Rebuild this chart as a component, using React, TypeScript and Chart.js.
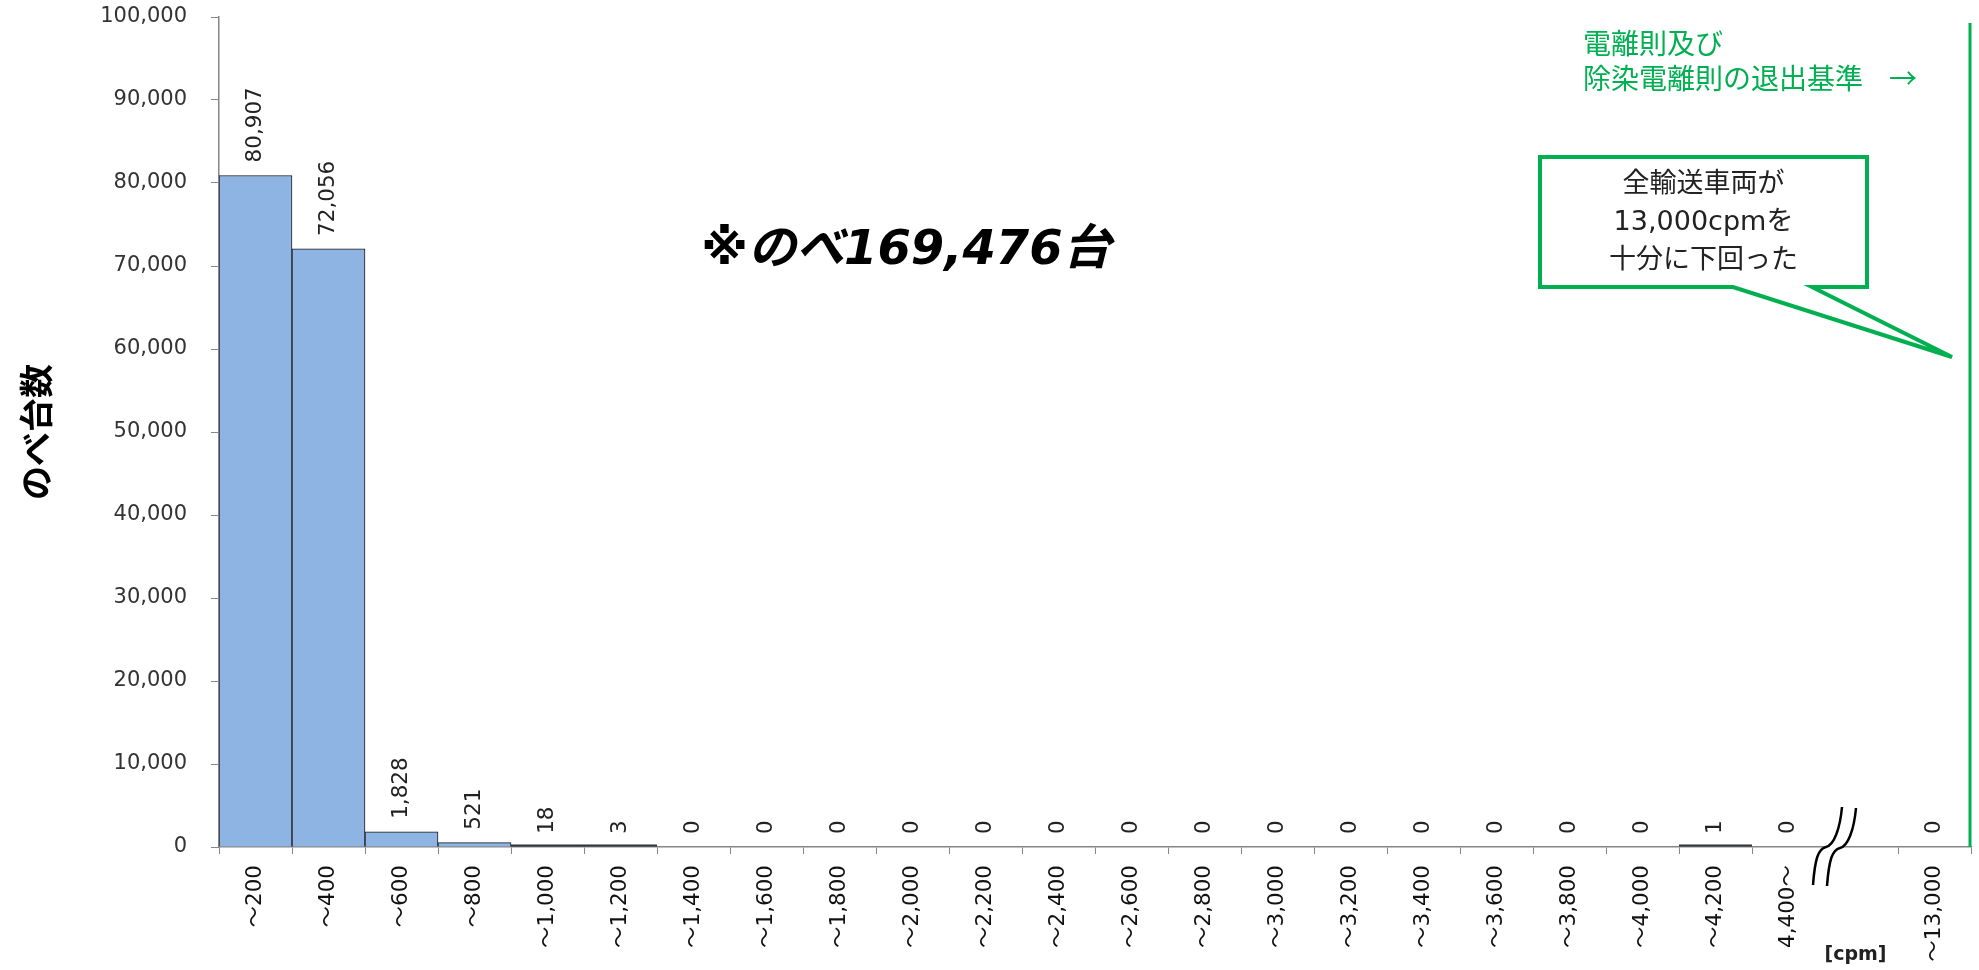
import { useEffect, useRef } from 'react';
import { Chart, registerables } from 'chart.js';

Chart.register(...registerables);

const categories = [
  '～200', '～400', '～600', '～800', '～1,000', '～1,200', '～1,400', '～1,600',
  '～1,800', '～2,000', '～2,200', '～2,400', '～2,600', '～2,800', '～3,000',
  '～3,200', '～3,400', '～3,600', '～3,800', '～4,000', '～4,200', '4,400～', '', '～13,000',
];
const counts: (number | null)[] = [
  80907, 72056, 1828, 521, 18, 3, 0, 0,
  0, 0, 0, 0, 0, 0, 0,
  0, 0, 0, 0, 0, 1, 0, null, 0,
];
const yMax = 100000;
const yStep = 10000;
const yTitle = 'のべ台数';
const totalText = '※のべ169,476台';
const unitText = '[cpm]';
const thresholdLines = ['電離則及び', '除染電離則の退出基準'];
const calloutLines = ['全輸送車両が', '13,000cpmを', '十分に下回った'];

const FONT = "'DejaVu Sans', 'Noto Sans CJK JP', sans-serif";
const JP = "'Noto Sans CJK JP', 'DejaVu Sans', sans-serif";
const GREEN = '#00B050';
const fmt = (v: number) => v.toLocaleString('en-US');

const overlay = {
  id: 'overlay',
  afterDatasetsDraw(chart: any) {
    const ctx = chart.ctx as CanvasRenderingContext2D;
    const meta = chart.getDatasetMeta(0);
    ctx.save();
    meta.data.forEach((bar: any, i: number) => {
      const v = counts[i];
      if (v == null || v <= 0) return;
      if (bar.base - bar.y < 2) {
        ctx.strokeStyle = '#333';
        ctx.lineWidth = 2;
        ctx.beginPath();
        ctx.moveTo(bar.x - bar.width / 2, bar.base - 1);
        ctx.lineTo(bar.x + bar.width / 2, bar.base - 1);
        ctx.stroke();
      }
    });
    ctx.fillStyle = '#222';
    ctx.font = `21.5px ${FONT}`;
    meta.data.forEach((bar: any, i: number) => {
      const v = counts[i];
      if (v == null) return;
      ctx.save();
      ctx.translate(bar.x, bar.y - 13);
      ctx.rotate(-Math.PI / 2);
      ctx.textAlign = 'left';
      ctx.textBaseline = 'middle';
      ctx.fillText(fmt(v), 0, 0);
      ctx.restore();
    });
    ctx.restore();
  },
  afterDraw(chart: any) {
    const ctx = chart.ctx as CanvasRenderingContext2D;
    const area = chart.chartArea;
    const meta = chart.getDatasetMeta(0);
    const R = area.right;
    ctx.save();

    // break symbol
    const gapIdx = categories.indexOf('');
    const bx = (meta.data[gapIdx - 1].x + meta.data[gapIdx].x) / 2;
    const by = area.bottom;
    const curve = (dx: number, dy: number, rev: boolean) => {
      const p0 = [bx - 12 + dx, by + 38 + dy];
      const p3 = [bx + 17 + dx, by - 40 + dy];
      const m = [bx + 1 + dx, by + dy];
      if (!rev) {
        ctx.lineTo(p0[0], p0[1]);
        ctx.bezierCurveTo(p0[0] + 2, p0[1] - 26, m[0] - 8, m[1] + 2, m[0], m[1]);
        ctx.bezierCurveTo(m[0] + 8, m[1] - 2, p3[0] - 2, p3[1] + 22, p3[0], p3[1]);
      } else {
        ctx.lineTo(p3[0], p3[1]);
        ctx.bezierCurveTo(p3[0] - 2, p3[1] + 22, m[0] + 8, m[1] - 2, m[0], m[1]);
        ctx.bezierCurveTo(m[0] - 8, m[1] + 2, p0[0] + 2, p0[1] - 26, p0[0], p0[1]);
      }
    };
    ctx.fillStyle = '#fff';
    ctx.beginPath();
    ctx.moveTo(bx - 12, by + 38);
    curve(0, 0, false);
    curve(14, 1, true);
    ctx.closePath();
    ctx.fill();
    ctx.strokeStyle = '#000';
    ctx.lineWidth = 2.5;
    ctx.beginPath();
    ctx.moveTo(bx - 12, by + 38);
    curve(0, 0, false);
    ctx.stroke();
    ctx.beginPath();
    ctx.moveTo(bx - 12 + 14, by + 38 + 1);
    curve(14, 1, false);
    ctx.stroke();

    // unit label
    ctx.fillStyle = '#222';
    ctx.font = `bold 19px ${FONT}`;
    ctx.textAlign = 'center';
    ctx.textBaseline = 'middle';
    ctx.fillText(unitText, meta.data[gapIdx].x - 6, 955);

    // threshold vertical line
    ctx.strokeStyle = GREEN;
    ctx.lineWidth = 3;
    ctx.beginPath();
    ctx.moveTo(R - 1, 23);
    ctx.lineTo(R - 1, area.bottom);
    ctx.stroke();

    // threshold text
    ctx.fillStyle = GREEN;
    ctx.font = `28px ${JP}`;
    ctx.textAlign = 'left';
    ctx.fillText(thresholdLines[0], R - 388, 43);
    ctx.fillText(thresholdLines[1], R - 388, 78);
    ctx.fillText('→', R - 82, 78);

    // callout
    const L = R - 431, T = 157, Rb = R - 104, B = 287;
    ctx.beginPath();
    ctx.moveTo(L, T);
    ctx.lineTo(Rb, T);
    ctx.lineTo(Rb, B);
    ctx.lineTo(R - 159, B);
    ctx.lineTo(R - 19, 357);
    ctx.lineTo(R - 238, B);
    ctx.lineTo(L, B);
    ctx.closePath();
    ctx.fillStyle = '#fff';
    ctx.fill();
    ctx.strokeStyle = GREEN;
    ctx.lineWidth = 4;
    ctx.lineJoin = 'miter';
    ctx.stroke();
    ctx.fillStyle = '#222';
    ctx.font = `27px ${FONT}`;
    ctx.textAlign = 'center';
    const cx = (L + Rb) / 2;
    calloutLines.forEach((t, i) => ctx.fillText(t, cx, 185 + i * 38));

    // total text
    ctx.fillStyle = '#000';
    ctx.font = `italic bold 48px ${FONT}`;
    ctx.textAlign = 'center';
    ctx.fillText(totalText, 906, 252);

    // y title
    ctx.save();
    ctx.translate(36, (area.top + area.bottom) / 2);
    ctx.rotate(-Math.PI / 2);
    ctx.font = `bold 34px ${JP}`;
    ctx.textAlign = 'center';
    ctx.textBaseline = 'middle';
    ctx.fillText(yTitle, 0, 0);
    ctx.restore();

    ctx.restore();
  },
};

export default function App() {
  const ref = useRef<HTMLCanvasElement>(null);
  useEffect(() => {
    document.body.style.margin = '0';
    const chart = new Chart(ref.current!, {
      type: 'bar',
      data: {
        labels: categories,
        datasets: [
          {
            data: counts,
            backgroundColor: '#8EB4E3',
            borderColor: '#1a1a1a',
            borderWidth: 1,
            barPercentage: 1,
            categoryPercentage: 1,
          },
        ],
      },
      options: {
        responsive: false,
        animation: false,
        layout: { padding: { top: 17, right: 8, left: 0, bottom: 0 } },
        plugins: { legend: { display: false }, tooltip: { enabled: false } },
        scales: {
          x: {
            offset: true,
            grid: { display: true, drawOnChartArea: false, offset: true, tickLength: 7, color: '#868686' },
            border: { color: '#868686', width: 1.5 },
            ticks: {
              autoSkip: false,
              minRotation: 90,
              maxRotation: 90,
              padding: 11,
              color: '#111',
              font: { size: 21.5, family: FONT },
            },
            afterFit: (s: any) => { s.height = 123; },
          },
          y: {
            min: 0,
            max: yMax,
            grid: { display: true, drawOnChartArea: false, tickLength: 8, color: '#868686' },
            border: { color: '#868686', width: 1.5 },
            ticks: {
              stepSize: yStep,
              padding: 24,
              color: '#333',
              font: { size: 21, family: FONT },
              callback: (v: any) => fmt(Number(v)),
            },
            afterFit: (s: any) => { s.width = 219; s.paddingTop = 0; s.paddingBottom = 0; },
          },
        },
      },
      plugins: [overlay],
    });
    return () => chart.destroy();
  }, []);
  return (
    <div style={{ width: 1979, height: 970, background: '#fff' }}>
      <canvas ref={ref} width={1979} height={970} style={{ display: 'block' }} />
    </div>
  );
}
